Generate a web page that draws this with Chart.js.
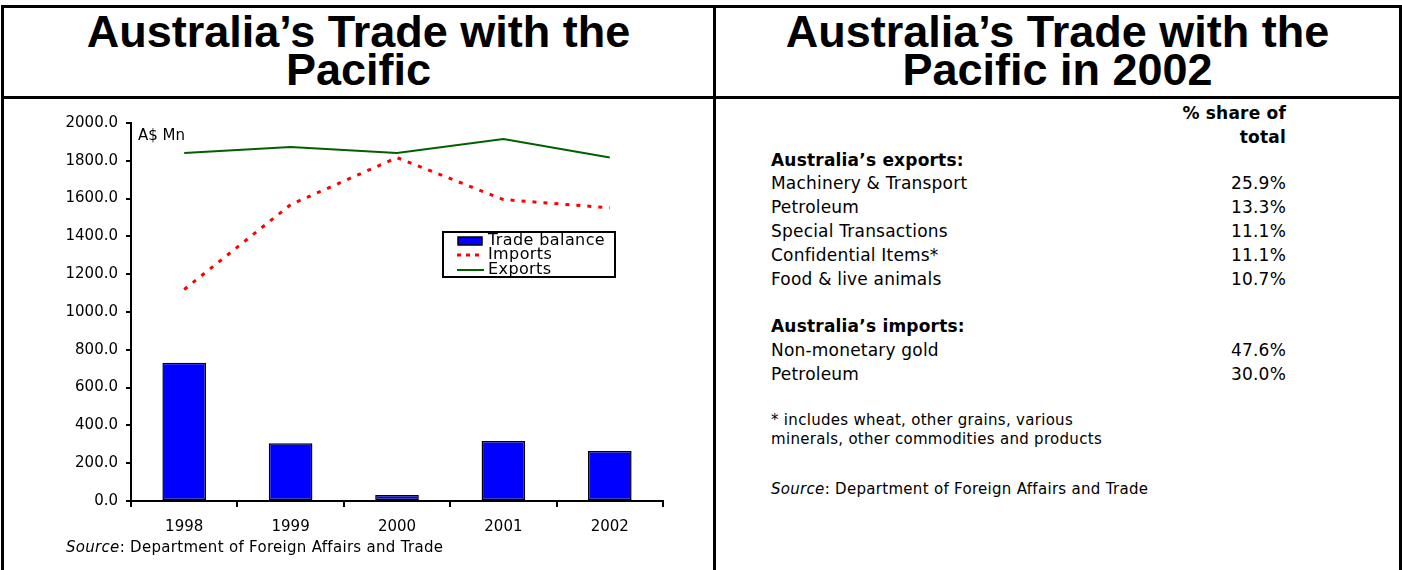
<!DOCTYPE html>
<html>
<head>
<meta charset="utf-8">
<script src="https://cdn.jsdelivr.net/npm/chart.js@4.4.0/dist/chart.umd.min.js"></script>
<style>
  html, body { margin: 0; padding: 0; background: #fff; }
  body { width: 1402px; height: 570px; position: relative; overflow: hidden; font-family: "DejaVu Sans", sans-serif; color: #000; }
  .ln { position: absolute; background: #000; }
  .title { position: absolute; top: 13px; font-family: "Liberation Sans", Arial, sans-serif; font-weight: bold; font-size: 45px; line-height: 38px; text-align: center; }
  .t { position: absolute; white-space: nowrap; }
  .row { position: absolute; left: 771px; width: 515px; height: 24px; line-height: 24px; font-size: 17px; letter-spacing: 0.2px; display: flex; justify-content: space-between; white-space: nowrap; }
  .b { font-weight: bold; }
  #wrap { position: absolute; left: 0; top: 100px; width: 713px; height: 470px; }
</style>
</head>
<body>
<div class="ln" style="left:1px;top:5px;width:1401px;height:3px"></div>
<div class="ln" style="left:1px;top:96px;width:1401px;height:3px"></div>
<div class="ln" style="left:1px;top:5px;width:3px;height:565px"></div>
<div class="ln" style="left:713px;top:5px;width:3px;height:565px"></div>
<div class="ln" style="left:1399px;top:5px;width:3px;height:565px"></div>

<div class="title" style="left:4px;width:709px">Australia’s Trade with the<br>Pacific</div>
<div class="title" style="left:716px;width:683px">Australia’s Trade with the<br>Pacific in 2002</div>

<div id="wrap"><canvas id="grafico" width="713" height="470"></canvas></div>
<div class="t" style="left:138px;top:126px;font-size:15px;line-height:18px">A$ Mn</div>
<div class="t" style="left:66px;top:538px;font-size:15px;line-height:18px;letter-spacing:0.3px"><i>Source</i>: Department of Foreign Affairs and Trade</div>

<div id="panel"></div>

<script>
// left chart data
const years = ['1998', '1999', '2000', '2001', '2002'];
const tradeBalance = [731, 305, 32, 317, 264];
const imports = [1119, 1568, 1817, 1595, 1551];
const exports = [1841, 1873, 1841, 1915, 1818];

// right panel data
const exportItems = ['Machinery & Transport', 'Petroleum', 'Special Transactions', 'Confidential Items*', 'Food & live animals'];
const exportShares = ['25.9%', '13.3%', '11.1%', '11.1%', '10.7%'];
const importItems = ['Non-monetary gold', 'Petroleum'];
const importShares = ['47.6%', '30.0%'];

function cargarPanel() {
    const p = document.getElementById('panel');
    let html = '';
    html += '<div class="row b" style="top:101px;justify-content:flex-end">% share of</div>';
    html += '<div class="row b" style="top:125px;justify-content:flex-end">total</div>';
    html += '<div class="row b" style="top:148px">Australia’s exports:</div>';
    exportItems.forEach((e, i) => {
        html += `<div class="row" style="top:${171 + i * 24}px"><span>${e.replace('&', '&amp;')}</span><span>${exportShares[i]}</span></div>`;
    });
    html += '<div class="row b" style="top:314px">Australia’s imports:</div>';
    importItems.forEach((e, i) => {
        html += `<div class="row" style="top:${338 + i * 24}px"><span>${e}</span><span>${importShares[i]}</span></div>`;
    });
    html += '<div class="t" style="left:771px;top:411px;font-size:15px;line-height:19px;letter-spacing:0.3px">* includes wheat, other grains, various<br>minerals, other commodities and products</div>';
    html += '<div class="t" style="left:771px;top:480px;font-size:15px;line-height:18px;letter-spacing:0.3px"><i>Source</i>: Department of Foreign Affairs and Trade</div>';
    p.innerHTML = html;
}

// legend box drawn inside the plot
const leyenda = {
    id: 'leyenda',
    afterDraw(chart) {
        const ctx = chart.ctx;
        const x = 443, y = 132, w = 172, h = 45;
        ctx.save();
        ctx.fillStyle = '#fff';
        ctx.fillRect(x, y, w, h);
        ctx.strokeStyle = '#000';
        ctx.lineWidth = 2;
        ctx.strokeRect(x, y, w, h);
        // bar swatch
        ctx.fillStyle = '#0000ff';
        ctx.fillRect(458, y + 5, 24, 8);
        ctx.lineWidth = 1.5;
        ctx.strokeRect(458, y + 5, 24, 8);
        // imports swatch
        ctx.strokeStyle = '#ff0000';
        ctx.lineWidth = 3;
        ctx.setLineDash([4, 5]);
        ctx.beginPath(); ctx.moveTo(457, y + 23); ctx.lineTo(484, y + 23); ctx.stroke();
        // exports swatch
        ctx.setLineDash([]);
        ctx.strokeStyle = '#006000';
        ctx.lineWidth = 2;
        ctx.beginPath(); ctx.moveTo(457, y + 38); ctx.lineTo(484, y + 38); ctx.stroke();
        ctx.font = '16px "DejaVu Sans"';
        ctx.letterSpacing = '0.4px';
        ctx.textBaseline = 'middle';
        ctx.fillStyle = '#000';
        ctx.fillText('Trade balance', 488, y + 9);
        ctx.fillText('Imports', 488, y + 23);
        ctx.fillText('Exports', 488, y + 38);
        ctx.restore();
    }
};

function cargarGrafico() {
    const ctx = document.getElementById('grafico').getContext('2d');
    new Chart(ctx, {
        type: 'bar',
        data: {
            labels: years,
            datasets: [
                {
                    type: 'line',
                    label: 'Exports',
                    data: exports,
                    borderColor: '#006000',
                    borderWidth: 2,
                    pointRadius: 0,
                    tension: 0,
                    order: 1
                },
                {
                    type: 'line',
                    label: 'Imports',
                    data: imports,
                    borderColor: '#ff0000',
                    borderWidth: 3,
                    borderDash: [4, 7],
                    pointRadius: 0,
                    tension: 0,
                    order: 2
                },
                {
                    label: 'Trade balance',
                    data: tradeBalance,
                    backgroundColor: '#0000ff',
                    borderColor: '#000',
                    borderWidth: 1.5,
                    borderSkipped: false,
                    categoryPercentage: 1,
                    barPercentage: 0.41,
                    order: 3
                }
            ]
        },
        options: {
            responsive: false,
            animation: false,
            devicePixelRatio: 1,
            layout: { padding: { top: 23, right: 50, bottom: 29, left: 0 } },
            plugins: { legend: { display: false }, tooltip: { enabled: false } },
            scales: {
                x: {
                    offset: true,
                    afterFit(s) { s.height = 40; },
                    border: { color: '#000', width: 2 },
                    grid: { offset: true, drawOnChartArea: false, color: '#000', lineWidth: 2, tickLength: 6 },
                    ticks: { color: '#000', font: { family: 'DejaVu Sans', size: 15 }, padding: 11 }
                },
                y: {
                    min: 0,
                    max: 2000,
                    afterFit(s) { s.width = 131; },
                    border: { color: '#000', width: 2 },
                    grid: { drawOnChartArea: false, color: '#000', lineWidth: 2, tickLength: 5 },
                    ticks: {
                        stepSize: 200,
                        color: '#000',
                        padding: 8,
                        font: { family: 'DejaVu Sans', size: 15 },
                        callback: v => v.toFixed(1)
                    }
                }
            }
        },
        plugins: [leyenda]
    });
}

cargarPanel();
cargarGrafico();
</script>
</body>
</html>
